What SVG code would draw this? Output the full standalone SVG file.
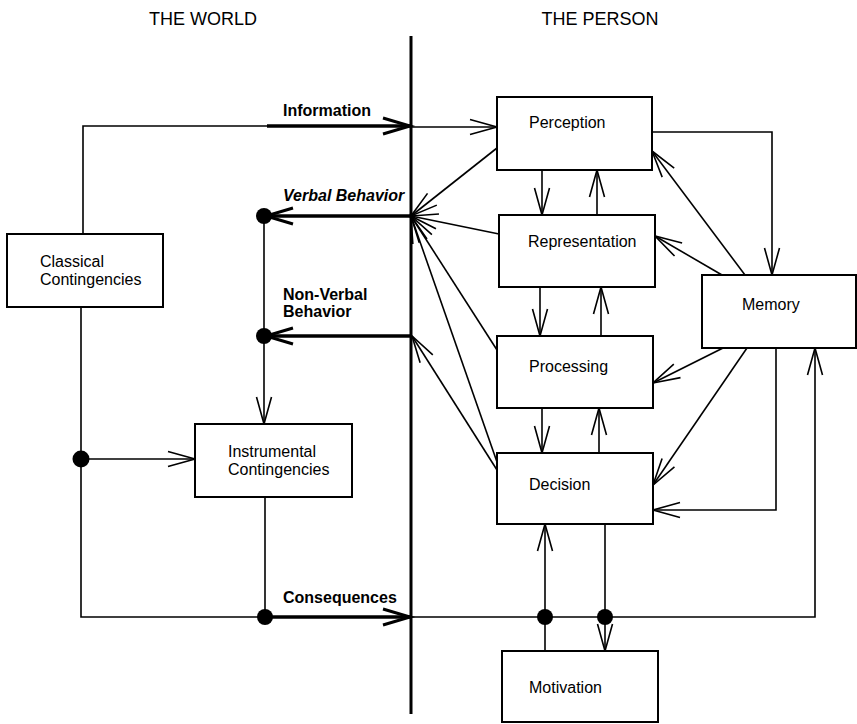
<svg xmlns="http://www.w3.org/2000/svg" width="857" height="724" viewBox="0 0 857 724">
<defs>
<marker id="a" markerUnits="userSpaceOnUse" markerWidth="40" markerHeight="24" viewBox="-30 -12 32 24" refX="0" refY="0" orient="auto" overflow="visible">
<path d="M -27 -7.5 L 0 0 L -27 7.5" fill="none" stroke="#000" stroke-width="1.6"/>
</marker>
<marker id="at" markerUnits="userSpaceOnUse" markerWidth="40" markerHeight="24" viewBox="-30 -12 32 24" refX="0" refY="0" orient="auto" overflow="visible">
<path d="M -27 -8 L 0 0 L -27 8" fill="none" stroke="#000" stroke-width="3"/>
</marker>
</defs>
<style>
.box{fill:#fff;stroke:#000;stroke-width:2}
.t{font-family:"Liberation Sans",Arial,sans-serif;font-size:16px;fill:#000}
.h{font-family:"Liberation Sans",Arial,sans-serif;font-size:18px;fill:#000}
.b{font-family:"Liberation Sans",Arial,sans-serif;font-size:16px;font-weight:bold;fill:#000}
.bi{font-family:"Liberation Sans",Arial,sans-serif;font-size:16px;font-weight:bold;font-style:italic;fill:#000}
.ln{fill:none;stroke:#000;stroke-width:1.6}
.arr{fill:none;stroke:#000;stroke-width:1.6;marker-end:url(#a)}
.thk{fill:none;stroke:#000;stroke-width:3.5}
.dot{fill:#000}
</style>

<text class="h" x="203" y="25" text-anchor="middle">THE WORLD</text>
<text class="h" x="600" y="25" text-anchor="middle">THE PERSON</text>

<g id="connectors">
<line x1="411" y1="36" x2="411" y2="714" stroke="#000" stroke-width="3"/>
<polyline class="ln" points="83,234 83,126 268,126"/>
<line class="thk" x1="267" y1="126" x2="410" y2="126" marker-end="url(#at)"/>
<line class="arr" x1="411" y1="127" x2="497" y2="127"/>
<line class="thk" x1="411" y1="216" x2="266" y2="216" marker-end="url(#at)"/>
<line class="thk" x1="411" y1="336" x2="266" y2="336" marker-end="url(#at)"/>
<line class="ln" x1="264" y1="216" x2="264" y2="336"/>
<line class="arr" x1="264" y1="336" x2="264" y2="424"/>
<polyline class="ln" points="81,307 81,617 264,617"/>
<line class="arr" x1="81" y1="459" x2="195" y2="459"/>
<line class="ln" x1="265" y1="497" x2="265" y2="617"/>
<line class="thk" x1="264" y1="617" x2="410" y2="617" marker-end="url(#at)"/>
<polyline class="arr" points="411,617 815,617 815,348"/>
<line class="arr" x1="497" y1="148" x2="411" y2="216"/>
<line class="arr" x1="499" y1="234" x2="411" y2="216"/>
<line class="arr" x1="497" y1="350" x2="411" y2="216"/>
<line class="arr" x1="497" y1="462" x2="411" y2="216"/>
<line class="arr" x1="497" y1="470" x2="412" y2="336"/>
<line class="arr" x1="542" y1="170" x2="542" y2="215"/>
<line class="arr" x1="597" y1="215" x2="597" y2="170"/>
<line class="arr" x1="540" y1="287" x2="540" y2="336"/>
<line class="arr" x1="601" y1="336" x2="601" y2="287"/>
<line class="arr" x1="542" y1="408" x2="542" y2="453"/>
<line class="arr" x1="599" y1="453" x2="599" y2="408"/>
<polyline class="arr" points="652,132 772,132 772,275"/>
<line class="arr" x1="745" y1="275" x2="652" y2="151"/>
<line class="arr" x1="722" y1="275" x2="655" y2="236"/>
<line class="arr" x1="723" y1="348" x2="653" y2="383"/>
<line class="arr" x1="747" y1="348" x2="653" y2="485"/>
<polyline class="arr" points="776,348 776,510 653,510"/>
<line class="arr" x1="545" y1="651" x2="545" y2="524"/>
<line class="arr" x1="605" y1="524" x2="605" y2="651"/>
<circle class="dot" cx="264" cy="216" r="8"/>
<circle class="dot" cx="264" cy="336" r="8"/>
<circle class="dot" cx="81" cy="459" r="8.5"/>
<circle class="dot" cx="265" cy="617" r="8"/>
<circle class="dot" cx="545" cy="617" r="8"/>
<circle class="dot" cx="605" cy="617" r="8"/>
</g>

<text class="b" x="283" y="116">Information</text>
<text class="bi" x="283" y="201">Verbal Behavior</text>
<text class="b" x="283" y="300">Non-Verbal</text>
<text class="b" x="283" y="317">Behavior</text>
<text class="b" x="283" y="603">Consequences</text>

<g id="classical">
<rect class="box" x="7" y="234" width="156" height="73"/>
<text class="t" x="40" y="267">Classical</text>
<text class="t" x="40" y="285">Contingencies</text>
</g>
<g id="instrumental">
<rect class="box" x="195" y="424" width="157" height="73"/>
<text class="t" x="228" y="457">Instrumental</text>
<text class="t" x="228" y="475">Contingencies</text>
</g>
<g id="perception">
<rect class="box" x="497" y="97" width="155" height="73"/>
<text class="t" x="529" y="128">Perception</text>
</g>
<g id="representation">
<rect class="box" x="499" y="215" width="156" height="72"/>
<text class="t" x="528" y="247">Representation</text>
</g>
<g id="processing">
<rect class="box" x="497" y="336" width="156" height="72"/>
<text class="t" x="529" y="372">Processing</text>
</g>
<g id="decision">
<rect class="box" x="497" y="453" width="156" height="71"/>
<text class="t" x="529" y="490">Decision</text>
</g>
<g id="memory">
<rect class="box" x="702" y="275" width="154" height="73"/>
<text class="t" x="742" y="310">Memory</text>
</g>
<g id="motivation">
<rect class="box" x="502" y="651" width="156" height="71"/>
<text class="t" x="529" y="693">Motivation</text>
</g>
</svg>
